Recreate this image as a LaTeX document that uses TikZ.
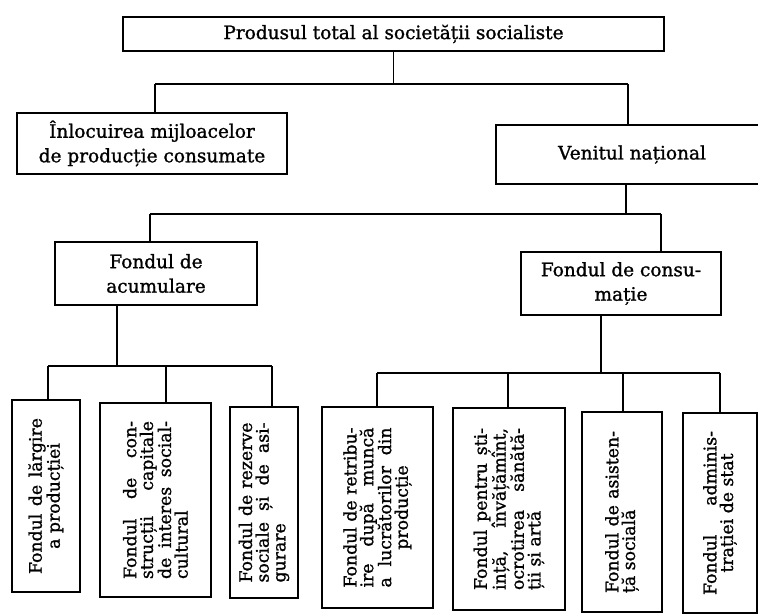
\documentclass[tikz,border=0pt]{standalone}
\usepackage{fontspec}
\newfontfamily\hfont[FakeBold=1.2]{DejaVu Serif}
\newfontfamily\vfont[FakeBold=1.2]{DejaVu Serif}
\newcommand\Jline[2][158pt]{\makebox[#1][s]{#2}}
\newcommand\Lline[2][158pt]{\makebox[#1][l]{#2}}
\newcommand\Cline[2][158pt]{\makebox[#1][c]{#2}}
\tikzset{
  hbox/.style={draw, line width=1.1pt, inner sep=0pt, align=center,
    font=\hfont\fontsize{18.5}{24.5}\selectfont},
  vbox/.style={draw, line width=1.1pt, inner sep=0pt, rotate=90, align=center,
    font=\vfont\fontsize{17.3}{16.7}\selectfont},
  conn/.style={line width=1.1pt}
}
\begin{document}
\begin{tikzpicture}[x=1pt,y=-1pt]
\useasboundingbox (0,0) rectangle (758,614);
% level 0
\node[hbox, minimum width=541pt, minimum height=34pt] (top) at (393.5,34) {Produsul total al societății socialiste};
% level 1
\node[hbox, minimum width=270pt, minimum height=61pt] (inl) at (152,143.5) {Înlocuirea mijloacelor\\de producție consumate};
\node[hbox, minimum width=272pt, minimum height=59pt] (ven) at (632,154.5) {Venitul național};
% level 2
\node[hbox, minimum width=202pt, minimum height=63pt] (acu) at (156,273.5) {Fondul de\\acumulare};
\node[hbox, minimum width=200pt, minimum height=63pt] (con) at (621,283.5) {Fondul de consu-\\mație};
% level 3 (rotated)
\node[vbox, minimum width=192pt, minimum height=68pt] (b1) at (46,496)
  {\Jline[156pt]{Fondul de lărgire}\\\Cline[156pt]{a producției}};
\node[vbox, minimum width=194pt, minimum height=111pt] (b2) at (155.5,500)
  {\Jline{Fondul de con-}\\\Jline{strucții capitale}\\\Jline{de interes social-}\\\Lline{cultural}};
\node[vbox, minimum width=191pt, minimum height=68pt] (b3) at (264,502.5)
  {\Jline[160pt]{Fondul de rezerve}\\\Jline[160pt]{sociale și de asi-}\\\Lline[160pt]{gurare}};
\node[vbox, minimum width=201pt, minimum height=111pt] (b4) at (377.5,507.5)
  {\Jline[160pt]{Fondul de retribu-}\\\Jline[160pt]{ire după muncă}\\\Jline[160pt]{a lucrătorilor din}\\\Cline[160pt]{producție}};
\node[vbox, minimum width=202pt, minimum height=112pt] (b5) at (509,509)
  {\Jline[162pt]{Fondul pentru ști-}\\\Jline[162pt]{ință, învățămînt,}\\\Jline[162pt]{ocrotirea sănătă-}\\\Lline[162pt]{ții și artă}};
\node[vbox, minimum width=200pt, minimum height=80pt] (b6) at (622,512)
  {\Jline[162pt]{Fondul de asisten-}\\\Lline[162pt]{ță socială}};
\node[vbox, minimum width=200pt, minimum height=74pt] (b7) at (720,513)
  {\Jline[164pt]{Fondul adminis-}\\\Cline[164pt]{trației de stat}};
% connectors level 0 -> 1
\coordinate (h1L) at (155,84);
\coordinate (h1R) at (628,84);
\draw[conn] (top.south) -- (top.south |- h1L);
\draw[conn] (h1L) -- (h1R);
\draw[conn] (h1L) -- (inl.north -| h1L);
\draw[conn] (h1R) -- (ven.north -| h1R);
% connectors Venitul -> level 2
\coordinate (v2) at (626,214);
\coordinate (h2L) at (150,214);
\coordinate (h2R) at (661,214);
\draw[conn] (ven.south -| v2) -- (v2);
\draw[conn] (h2L) -- (h2R);
\draw[conn] (h2L) -- (acu.north -| h2L);
\draw[conn] (h2R) -- (con.north -| h2R);
% connectors acumulare -> b1..b3
\coordinate (a3) at (117,366);
\coordinate (h3L) at (48,366);
\coordinate (h3M) at (166,366);
\coordinate (h3R) at (272,366);
\draw[conn] (acu.south -| a3) -- (a3);
\draw[conn] (h3L) -- (h3R);
\draw[conn] (h3L) -- (b1.east -| h3L);
\draw[conn] (h3M) -- (b2.east -| h3M);
\draw[conn] (h3R) -- (b3.east -| h3R);
% connectors consumatie -> b4..b7
\coordinate (c4) at (601,373);
\coordinate (h4A) at (377,373);
\coordinate (h4B) at (508,373);
\coordinate (h4C) at (623,373);
\coordinate (h4D) at (720,373);
\draw[conn] (con.south -| c4) -- (c4);
\draw[conn] (h4A) -- (h4D);
\draw[conn] (h4A) -- (b4.east -| h4A);
\draw[conn] (h4B) -- (b5.east -| h4B);
\draw[conn] (h4C) -- (b6.east -| h4C);
\draw[conn] (h4D) -- (b7.east -| h4D);
\end{tikzpicture}
\end{document}
